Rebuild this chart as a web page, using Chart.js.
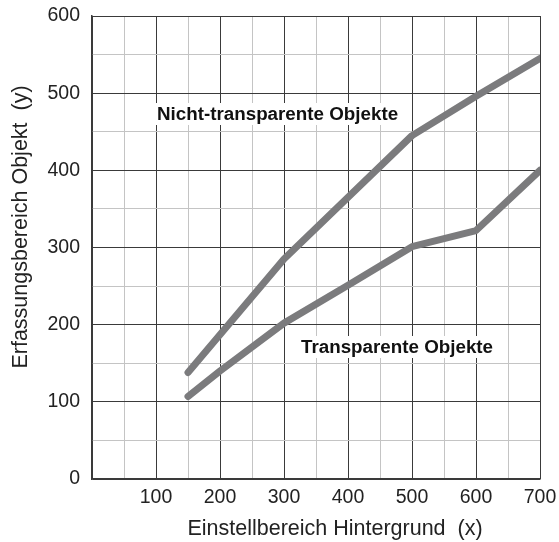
<!DOCTYPE html>
<html>
<head>
<meta charset="utf-8">
<script src="https://cdn.jsdelivr.net/npm/chart.js@4/dist/chart.umd.min.js"></script>
<style>
html,body{margin:0;padding:0;background:#fff;}
#wrap{width:559px;height:542px;position:relative;}
</style>
</head>
<body>
<div id="wrap"><canvas id="c" width="559" height="542"></canvas></div>
<script>
// Data
const xOpaque = [150, 300, 500, 600, 700];
const yOpaque = [138, 285, 445, 496, 545];
const xTransparent = [150, 200, 300, 400, 500, 600, 700];
const yTransparent = [107, 140, 202, 251, 301, 322, 400];
const xTicks = [100, 200, 300, 400, 500, 600, 700];
const yTicks = [0, 100, 200, 300, 400, 500, 600];
const labelOpaque = 'Nicht-transparente Objekte';
const labelTransparent = 'Transparente Objekte';
const xTitle = 'Einstellbereich Hintergrund  (x)';
const yTitle = 'Erfassungsbereich Objekt  (y)';

const FONT = '"Liberation Sans", Arial, sans-serif';
const LINE = '#7b7b7d';

function pts(xs, ys){ return xs.map((x,i)=>({x:x, y:ys[i]})); }

const annot = {
  id:'annot',
  afterDatasetsDraw(chart){
    const ctx = chart.ctx;
    ctx.save();
    ctx.font = 'bold 18.8px ' + FONT;
    ctx.textBaseline = 'middle';
    ctx.textAlign = 'left';
    const items = [
      [labelOpaque, 157, 114],
      [labelTransparent, 301, 347]
    ];
    items.forEach(([t, px, py])=>{
      const w = ctx.measureText(t).width;
      ctx.fillStyle = '#fff';
      ctx.fillRect(px-3, py-11, w+6, 22);
      ctx.fillStyle = '#111';
      ctx.fillText(t, px, py+1);
    });
    ctx.font = '21.5px ' + FONT;
    ctx.fillStyle = '#222';
    ctx.textAlign = 'center';
    ctx.fillText(xTitle, 335, 529);
    ctx.translate(21, 227);
    ctx.rotate(-Math.PI/2);
    ctx.fillText(yTitle, 0, 0);
    ctx.restore();
  }
};

const gridColor = c => (c.tick && c.tick.value % 100 === 0) ? '#3a3a3a' : '#c4c4c4';

new Chart(document.getElementById('c'), {
  type: 'scatter',
  data: {
    datasets: [
      {data: pts(xOpaque, yOpaque), showLine:true, borderColor:LINE, borderWidth:7,
       pointRadius:0, borderCapStyle:'round', borderJoinStyle:'round', tension:0},
      {data: pts(xTransparent, yTransparent), showLine:true, borderColor:LINE, borderWidth:7,
       pointRadius:0, borderCapStyle:'round', borderJoinStyle:'round', tension:0}
    ]
  },
  options: {
    responsive:false,
    animation:false,
    layout:{padding:{left:0, right:19, top:16, bottom:0}},
    plugins:{legend:{display:false}, tooltip:{enabled:false}},
    scales:{
      x:{
        type:'linear', min:0, max:700,
        afterBuildTicks(s){ s.ticks = []; for(let v=0; v<=700; v+=50) s.ticks.push({value:v}); },
        afterFit(s){ s.height = 63; s.paddingLeft = 0; s.paddingRight = 0; },
        grid:{color:gridColor, lineWidth:1, drawTicks:false},
        border:{display:true, color:'#3a3a3a', width:1.5},
        ticks:{padding:7, color:'#222', font:{family:FONT, size:19.5}, autoSkip:false,
          maxRotation:0, minRotation:0,
          callback:v => xTicks.includes(v) ? String(v) : ''}
      },
      y:{
        type:'linear', min:0, max:600,
        afterBuildTicks(s){ s.ticks = []; for(let v=0; v<=600; v+=50) s.ticks.push({value:v}); },
        afterFit(s){ s.width = 92; s.paddingTop = 0; s.paddingBottom = 0; },
        grid:{color:gridColor, lineWidth:1, drawTicks:false},
        border:{display:true, color:'#3a3a3a', width:1.5},
        ticks:{padding:12, color:'#222', font:{family:FONT, size:19.5}, autoSkip:false,
          callback:v => yTicks.includes(v) ? String(v) : ''}
      }
    }
  },
  plugins:[annot]
});
</script>
</body>
</html>
